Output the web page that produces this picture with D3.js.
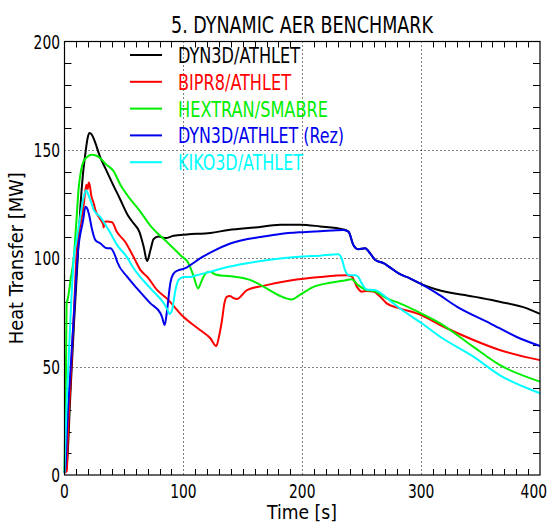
<!DOCTYPE html>
<html>
<head>
<meta charset="utf-8">
<script src="https://cdn.jsdelivr.net/npm/d3@7"></script>
<style>
  body { margin: 0; background: #fff; }
  text { font-family: "Liberation Sans Narrow", "Arial Narrow", "DejaVu Sans Condensed", sans-serif; font-stretch: condensed; fill: #000; }
</style>
</head>
<body>
<div id="chart"></div>
<script>
// series, [time s, heat transfer MW]
const dyn3dAthlet = [[0,1],[2,5],[5,38],[8,70],[11,99],[13.4,124],[15.4,138],[17.6,148.5],[19.5,155.6],[21,157.8],[23,157],[25,154.6],[30,146.7],[35,140.8],[40,134.9],[47,127],[53,120.1],[58,116.2],[63,112.2],[66.6,105.3],[69.5,98.7],[72.3,103.8],[75,108.9],[79,110],[85,109.3],[91.8,110.4],[103,111],[122.7,111.7],[138,113],[160,114.2],[181.5,115.4],[198,115.5],[215,114.7],[234.5,113.3],[239,112.2],[243,106.1],[247,104.2],[253,104.6],[257,102.3],[261.5,99.2],[268.3,97.7],[274,95.7],[281,93],[291,90.6],[299,88.4],[313,85.6],[344,82.3],[366,79.9],[389,76.9],[400,74.3]];

const bipr8Athlet = [[0,1],[2,2],[2.5,12],[5,42],[8,76],[10.3,103],[14,117.2],[16,124],[17.5,131],[18.5,133.9],[19.5,131.9],[20.4,134.9],[21.5,132.9],[22.5,129],[24.6,125.3],[26,122.1],[28.8,119.1],[31,117.2],[32.5,115.7],[33,114.2],[33.6,116.8],[35.8,116.9],[40,116.6],[44,112.2],[51,107.6],[58,100.7],[64,94.5],[69.5,91.5],[78,85.3],[86,81.5],[100,73],[114,66.9],[122.7,63.1],[127.7,59.5],[130,64],[132.5,71.5],[134.5,79.2],[136.5,82.2],[139,82.6],[142,81.7],[145,81.2],[153.5,85.3],[170,87.6],[190,89.7],[215,91.3],[237.5,92.1],[241.7,91.5],[246,86.8],[250,84.6],[254,84.9],[260,84.6],[265.5,82.3],[271,79.2],[282,76.9],[300,73.8],[316,69.2],[344,62.3],[366,57.7],[400,53]];

const hextranSmabre = [[0,1],[1.2,47],[1.9,80],[2.5,80.7],[5,89.6],[8,101.4],[10,117.2],[12,132.9],[14,140.8],[16,144.7],[19,146.7],[23,147.7],[27,147.3],[31,145.7],[35,143.3],[41,140.4],[47,133.9],[55,127.5],[63,122.1],[72,115.2],[86,107.6],[97.5,101.4],[104.5,97.5],[108.7,91.5],[112.3,86.1],[115.7,90],[118,92.5],[120,93.5],[122,93.8],[127,92.5],[134,91.9],[140,91.7],[156,90],[170,86.1],[181,82.7],[191,81],[198,83.1],[209.5,86.8],[223.5,88.7],[234,89.6],[241.7,90.3],[247,87.6],[253,85.6],[261.5,84.6],[271,81.5],[282,79.2],[300,74.6],[316,70],[344,59.1],[366,50.8],[400,43.1]];

const dyn3dAthletRez = [[0,1],[1,5],[2,20],[5,48],[8,75],[11.3,103],[15.7,117.6],[17.6,123.8],[19,123.1],[20.4,120.7],[23.3,113],[26,108.4],[30,106.9],[35.8,104.6],[38.7,104.6],[42.9,100.7],[44.3,98.4],[52.7,91.5],[61,86.1],[72.3,79.2],[80.7,74.6],[82,73],[84.3,69.2],[86.3,76.1],[89,88.4],[91.9,93],[96,94.5],[101.7,95.4],[106,96.9],[114,99.9],[125.5,103.4],[139.5,106.8],[167.5,110],[181.5,111.2],[198,112],[215,112.5],[234.7,113],[239,112.2],[243,106.1],[247,104.2],[253,104.6],[257,102.3],[261.5,99.2],[268.3,97.7],[274,95.7],[281,93],[291,90.6],[299,88.4],[313,83.9],[330,77.7],[358,70],[380,63.8],[400,59.5]];

const kiko3dAthlet = [[0,1],[1,20],[2,35],[4,60],[8,101],[10,108],[13,118.1],[16,128],[18.2,131.4],[19.5,130],[21.8,126.8],[24.6,122.3],[30,119.1],[38.7,111.5],[44,106.3],[52.7,100.4],[58,95.5],[72.3,86.1],[83.5,79.2],[86,76.9],[88.5,74.3],[90.5,76.1],[93.3,85.3],[96,90],[100,91.3],[107,91.5],[111.5,92.2],[122.7,93.8],[138,96.1],[153.5,97.7],[181.5,99.9],[198,100.7],[215,101.2],[230.5,101.8],[233,100.1],[236,94.5],[239,92.2],[244.5,92.2],[247,91.5],[250,88.4],[254,85.6],[261,85.3],[268,83.1],[275,79.9],[282,76.9],[300.5,70],[316,63.8],[344,54.6],[366,46.1],[400,37.7]];

const seriesNames = ["DYN3D/ATHLET", "BIPR8/ATHLET", "HEXTRAN/SMABRE", "DYN3D/ATHLET (Rez)", "KIKO3D/ATHLET"];
const seriesColors = ["#000000", "#ff0000", "#00ee00", "#0000ee", "#00ffff"];
const seriesData = [dyn3dAthlet, bipr8Athlet, hextranSmabre, dyn3dAthletRez, kiko3dAthlet];

const xTicks = [0, 100, 200, 300, 400];
const yTicks = [0, 50, 100, 150, 200];

const width = 552, height = 525;
const plotLeft = 64.5, plotRight = 540, plotTop = 41.5, plotBottom = 475;

const svg = d3.select("#chart").append("svg")
    .attr("width", width)
    .attr("height", height);

const x = d3.scaleLinear().domain([0, 400]).range([plotLeft, plotRight]);
const y = d3.scaleLinear().domain([0, 200]).range([plotBottom, plotTop]);

// griglia punteggiata (tick maggiori)
const grid = svg.append("g").attr("stroke", "#000").attr("stroke-width", 1).attr("stroke-dasharray", "1,3");
grid.selectAll(".gx").data(xTicks.slice(1, -1)).join("line")
    .attr("x1", d => Math.round(x(d)) + 0.5).attr("x2", d => Math.round(x(d)) + 0.5)
    .attr("y1", plotTop).attr("y2", plotBottom);
grid.selectAll(".gy").data(yTicks.slice(1, -1)).join("line")
    .attr("x1", plotLeft).attr("x2", plotRight)
    .attr("y1", d => Math.round(y(d)) + 0.5).attr("y2", d => Math.round(y(d)) + 0.5);

// tick minori
const minorX = d3.range(10, 400, 10).filter(d => d % 100 !== 0);
const minorY = d3.range(10, 200, 10).filter(d => d % 50 !== 0);
const ticks = svg.append("g").attr("stroke", "#000").attr("stroke-width", 1);
minorX.forEach(d => {
    const px = Math.round(x(d)) + 0.5;
    ticks.append("line").attr("x1", px).attr("x2", px).attr("y1", plotBottom).attr("y2", plotBottom - 6);
    ticks.append("line").attr("x1", px).attr("x2", px).attr("y1", plotTop).attr("y2", plotTop + 6);
});
minorY.forEach(d => {
    const py = Math.round(y(d)) + 0.5;
    ticks.append("line").attr("x1", plotLeft).attr("x2", plotLeft + 7).attr("y1", py).attr("y2", py);
    ticks.append("line").attr("x1", plotRight).attr("x2", plotRight - 7).attr("y1", py).attr("y2", py);
});

// curve
const line = d3.line()
    .x(d => x(d[0]))
    .y(d => y(d[1]))
    .curve(d3.curveMonotoneX);

svg.append("g")
    .attr("fill", "none")
    .selectAll("path")
    .data(seriesData)
    .join("path")
    .attr("d", line)
    .attr("stroke", (d, i) => seriesColors[i])
    .attr("stroke-width", 2)
    .attr("stroke-linejoin", "round");

// cornice
svg.append("rect")
    .attr("x", plotLeft).attr("y", plotTop)
    .attr("width", plotRight - plotLeft).attr("height", plotBottom - plotTop)
    .attr("fill", "none").attr("stroke", "#000").attr("stroke-width", 1.2);

// etichette assi (cifre strette come nel font IDL)
const digitW = 8.8;
svg.append("g").selectAll("text").data(xTicks).join("text")
    .attr("x", d => Math.min(x(d), width - 5 - String(d).length * digitW / 2)).attr("y", 498)
    .attr("text-anchor", "middle").attr("font-size", 19)
    .attr("textLength", d => String(d).length * digitW).attr("lengthAdjust", "spacingAndGlyphs")
    .text(d => d);
svg.append("g").selectAll("text").data(yTicks).join("text")
    .attr("x", 60).attr("y", d => y(d) + 7)
    .attr("text-anchor", "end").attr("font-size", 19)
    .attr("textLength", d => String(d).length * digitW).attr("lengthAdjust", "spacingAndGlyphs")
    .text(d => d);

svg.append("text")
    .attr("x", 302).attr("y", 519)
    .attr("text-anchor", "middle").attr("font-size", 19)
    .attr("textLength", 70).attr("lengthAdjust", "spacingAndGlyphs")
    .text("Time [s]");
svg.append("text")
    .attr("transform", `translate(23,${(plotTop + plotBottom) / 2}) rotate(-90)`)
    .attr("text-anchor", "middle").attr("font-size", 19)
    .attr("textLength", 172).attr("lengthAdjust", "spacingAndGlyphs")
    .text("Heat Transfer [MW]");

svg.append("text")
    .attr("x", 302).attr("y", 33)
    .attr("text-anchor", "middle").attr("font-size", 23)
    .attr("textLength", 262).attr("lengthAdjust", "spacingAndGlyphs")
    .text("5. DYNAMIC AER BENCHMARK");

// legenda
const legendWidths = [122, 113, 150, 166, 125];
const legend = svg.append("g");
seriesNames.forEach((name, i) => {
    const by = 63 + i * 26.8;
    legend.append("line")
        .attr("x1", 130).attr("x2", 162)
        .attr("y1", by - 8).attr("y2", by - 8)
        .attr("stroke", seriesColors[i]).attr("stroke-width", 2);
    legend.append("text")
        .attr("x", 178).attr("y", by)
        .attr("font-size", 21)
        .attr("textLength", legendWidths[i]).attr("lengthAdjust", "spacingAndGlyphs")
        .style("fill", seriesColors[i])
        .text(name);
});
</script>
</body>
</html>
